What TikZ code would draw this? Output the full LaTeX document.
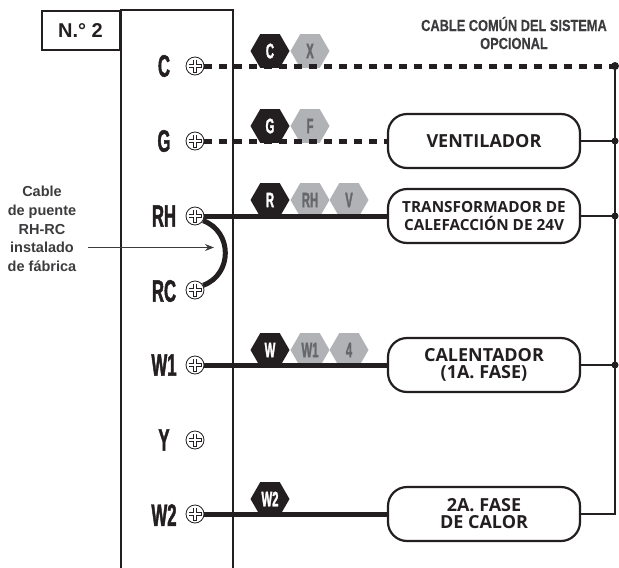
\documentclass[tikz,border=0pt]{standalone}
\usepackage{fontspec}
\usepackage{tikz}
\usetikzlibrary{arrows.meta}
\usetikzlibrary{positioning}
\usetikzlibrary{shapes.geometric}
\setmainfont{Liberation Sans}
\newfontfamily\narrowfont[FakeStretch=0.54,FakeBold=1.4]{Liberation Sans Bold}
\newfontfamily\notefont[FakeStretch=0.8,FakeBold=0.5]{Liberation Sans Bold}
\newfontfamily\loadfont{Open Sans}
\definecolor{inkblack}{HTML}{231F20}
\definecolor{hexgray}{HTML}{B1B2B5}
\definecolor{hextext}{HTML}{66676A}
\definecolor{notegray}{HTML}{3C3C3E}
\tikzset{>=stealth}
\tikzset{
    panel/.style={line width=2pt, draw=inkblack},
    hexdark/.style={regular polygon, regular polygon sides=6, minimum size=39pt, inner sep=0pt, fill=inkblack, text=white, font=\narrowfont\fontsize{21}{21}\selectfont},
    hexlight/.style={hexdark, fill=hexgray, text=hextext},
    screw/.style={circle, draw=inkblack, fill=white, line width=0.8pt, minimum size=18pt, inner sep=0pt,
        path picture={
            \draw[inkblack, line width=3.4pt] ([xshift=-6.5pt]path picture bounding box.center) -- ([xshift=6.5pt]path picture bounding box.center);
            \draw[inkblack, line width=3.4pt] ([yshift=-6.5pt]path picture bounding box.center) -- ([yshift=6.5pt]path picture bounding box.center);
            \draw[white, line width=2.2pt] ([xshift=-6pt]path picture bounding box.center) -- ([xshift=6pt]path picture bounding box.center);
            \draw[white, line width=2.2pt] ([yshift=-6pt]path picture bounding box.center) -- ([yshift=6pt]path picture bounding box.center);
        }},
    termlabel/.style={inner sep=0pt, text=inkblack, font=\narrowfont\fontsize{31}{31}\selectfont},
    loadbox/.style={draw=inkblack, fill=white, line width=2.2pt, rounded corners=19pt, minimum width=192pt, minimum height=54pt, inner sep=0pt, align=center, text=inkblack},
    wire/.style={inkblack, line width=5pt},
    dashwire/.style={wire, dash pattern=on 8pt off 7pt},
    return/.style={inkblack, line width=1.5pt},
    busdot/.style={circle, fill=inkblack, inner sep=0pt, minimum size=7pt},
}

\begin{document}
\begin{tikzpicture}[x=1pt, y=-1pt]
    \useasboundingbox (0,0) rectangle (619,568);

    \coordinate (paneltl) at (120.5,9.5);
    \coordinate (paneltr) at (232.5,9.5);
    \coordinate (panelbl) at (120.5,568);
    \coordinate (panelbr) at (232.5,568);
    \draw[panel] (panelbl) -- (paneltl) -- (paneltr) -- (panelbr);
    \node[panel, draw, minimum width=78pt, minimum height=39.5pt, inner sep=0pt, anchor=north east, font=\bfseries\fontsize{20}{20}\selectfont, text=inkblack] (numbox) at (paneltl) {N.° 2};

    \node[text=notegray, align=center, font=\notefont\fontsize{16}{18}\selectfont] (common) at (514,33) {CABLE COMÚN DEL SISTEMA\\OPCIONAL};

    \node[align=center, text=notegray, font=\bfseries\fontsize{14.5}{18.6}\selectfont] (jumpernote) at (42,229) {Cable\\de puente\\RH-RC\\instalado\\de fábrica};

    \node[hexdark] (hexC) at (270,51) {C};
    \node[hexlight] (hexX) at (310,51) {X};
    \node[hexdark] (hexG) at (270,126) {G};
    \node[hexlight] (hexF) at (310,126) {F};
    \node[hexdark] (hexR) at (270,200) {R};
    \node[hexlight] (hexRH) at (310,200) {RH};
    \node[hexlight] (hexV) at (349,200) {V};
    \node[hexdark] (hexW) at (270,350) {W};
    \node[hexlight] (hexWone) at (310,350) {W1};
    \node[hexlight] (hexfour) at (349,350) {4};
    \node[hexdark] (hexWtwo) at (270,499) {W2};

    \node[termlabel] (labelC) at (164,66) {C};
    \node[termlabel] (labelG) at (164,141) {G};
    \node[termlabel] (labelRH) at (164,216) {RH};
    \node[termlabel] (labelRC) at (164,291) {RC};
    \node[termlabel] (labelWone) at (164,365) {W1};
    \node[termlabel] (labelY) at (164,440) {Y};
    \node[termlabel] (labelWtwo) at (164,515) {W2};

    \node[screw] (screwC) at (195,66) {};
    \node[screw] (screwG) at (195,141) {};
    \node[screw] (screwRH) at (195,216) {};
    \node[screw] (screwRC) at (195,290) {};
    \node[screw] (screwWone) at (195,365) {};
    \node[screw] (screwY) at (195,440) {};
    \node[screw] (screwWtwo) at (195,514) {};

    \node[loadbox, font=\loadfont\bfseries\fontsize{18}{17}\selectfont] (fan) at (484,141) {VENTILADOR};
    \node[loadbox, font=\loadfont\bfseries\fontsize{15.3}{18}\selectfont] (transformer) at (484,216) {TRANSFORMADOR DE\\CALEFACCIÓN DE 24V};
    \node[loadbox, font=\loadfont\bfseries\fontsize{18}{17}\selectfont] (heater) at (484,365) {CALENTADOR\\(1A. FASE)};
    \node[loadbox, font=\loadfont\bfseries\fontsize{18}{17}\selectfont] (secondheat) at (484,514) {2A. FASE\\DE CALOR};

    \coordinate (busC) at (615,66);
    \coordinate (busG) at (615,141);
    \coordinate (busR) at (615,216);
    \coordinate (busW) at (615,365);
    \coordinate (busWtwo) at (615,514);

    \draw[dashwire] (screwC.east) -- (busC);
    \draw[dashwire] (screwG.east) -- (fan.west);
    \draw[wire] (screwRH.east) -- (transformer.west);
    \draw[wire] (screwWone.east) -- (heater.west);
    \draw[wire] (screwWtwo.east) -- (secondheat.west);
    \draw[wire] (screwRH.-30) to[out=-20, in=20, looseness=1.25] (screwRC.30);

    \draw[return] (busC) -- (busWtwo) -- (secondheat.east);
    \draw[return] (fan.east) -- (busG);
    \draw[return] (transformer.east) -- (busR);
    \draw[return] (heater.east) -- (busW);

    \node[busdot, minimum size=8pt] (dotC) at (busC) {};
    \node[busdot] (dotG) at (busG) {};
    \node[busdot] (dotR) at (busR) {};
    \node[busdot] (dotW) at (busW) {};

    \coordinate (jumpertail) at (88,247.5);
    \coordinate (jumpertip) at (214,247.5);
    \draw[-{Stealth[length=9pt,width=7pt]}, notegray, line width=1.8pt] (jumpertail) -- (jumpertip);
\end{tikzpicture}
\end{document}
